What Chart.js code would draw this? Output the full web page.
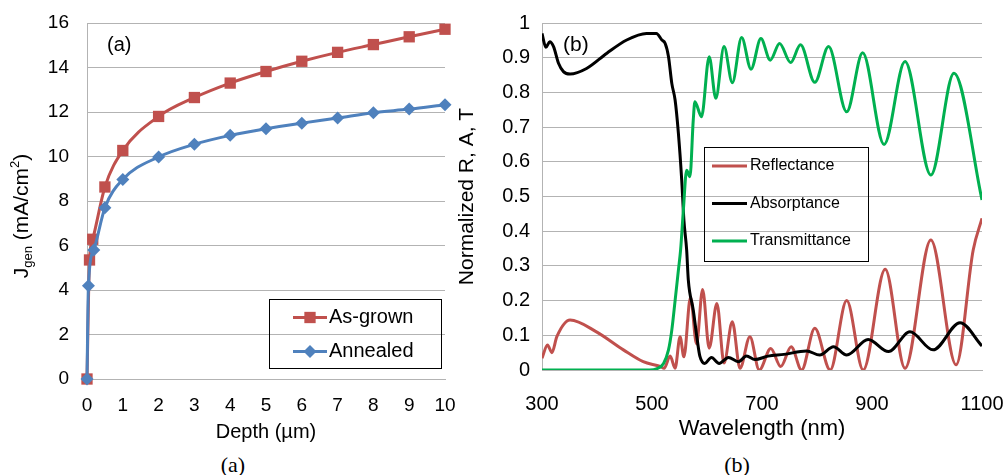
<!DOCTYPE html>
<html>
<head>
<meta charset="utf-8">
<script src="https://cdn.jsdelivr.net/npm/chart.js@4.4.1/dist/chart.umd.min.js"></script>
<style>
  html, body { margin: 0; padding: 0; background: #fff; overflow: hidden; }
  #wrap { position: relative; width: 1003px; height: 475px; }
  canvas { position: absolute; top: 0; }
  #left { left: 0; }
  #right { left: 455px; }
  .cap { position: absolute; top: 452px; width: 60px; margin-left: -30px; text-align: center;
         font: 22px "Liberation Serif", "DejaVu Serif", serif; line-height: 26px; color: #000; }
</style>
</head>
<body>
<div id="wrap">
  <canvas id="left" width="460" height="445"></canvas>
  <canvas id="right" width="560" height="445"></canvas>
  <div class="cap" style="left:233px">(a)</div>
  <div class="cap" style="left:737px">(b)</div>
</div>
<script>
// (a) generated current vs depth
const depthGrown = [0, 0.07, 0.16, 0.5, 1, 2, 3, 4, 5, 6, 7, 8, 9, 10];
const jGrown = [0, 5.35, 6.28, 8.63, 10.27, 11.8, 12.65, 13.3, 13.82, 14.28, 14.68, 15.03, 15.38, 15.72];
const depthAnnealed = [0, 0.04, 0.19, 0.5, 1, 2, 3, 4, 5, 6, 7, 8, 9, 10];
const jAnnealed = [0, 4.19, 5.8, 7.7, 8.97, 9.98, 10.55, 10.95, 11.25, 11.5, 11.73, 11.97, 12.13, 12.33];

// (b) normalized R, A, T vs wavelength
const reflWl = [300, 310, 318, 327, 351, 399, 448, 484, 515, 522, 533, 542, 551, 558, 570, 581, 592, 604, 618, 631, 646, 660, 678, 695, 716, 734, 753, 772, 796, 824, 854, 884, 924, 960, 1007, 1053, 1084, 1100];
const reflVal = [0.034, 0.072, 0.05, 0.096, 0.144, 0.11, 0.058, 0.024, 0.01, 0.005, 0.04, 0.005, 0.096, 0.038, 0.21, 0.075, 0.232, 0.063, 0.192, 0.02, 0.139, 0.005, 0.096, 0.0, 0.062, 0.01, 0.067, 0.0, 0.12, 0.0, 0.2, 0.0, 0.29, 0.005, 0.375, 0.015, 0.346, 0.437];

const absWl = [300, 307, 314, 321, 330, 339, 351, 381, 418, 454, 490, 508, 518, 524, 530, 536, 542, 548, 554, 558, 563, 566, 575, 582, 587, 596, 608, 622, 639, 657, 672, 687, 711, 740, 781, 805, 830, 854, 893, 930, 969, 1011, 1060, 1100];
const absVal = [0.97, 0.93, 0.946, 0.932, 0.884, 0.86, 0.853, 0.869, 0.913, 0.951, 0.97, 0.97, 0.951, 0.941, 0.903, 0.826, 0.778, 0.682, 0.548, 0.432, 0.346, 0.26, 0.173, 0.09, 0.04, 0.019, 0.036, 0.019, 0.036, 0.024, 0.04, 0.03, 0.04, 0.045, 0.055, 0.043, 0.067, 0.043, 0.088, 0.053, 0.11, 0.058, 0.136, 0.069];

const transWl = [300, 496, 508, 521, 530, 536, 542, 548, 552, 557, 563, 569, 575, 578, 590, 604, 616, 631, 646, 663, 680, 698, 715, 732, 752, 770, 796, 821, 854, 883, 922, 960, 1007, 1049, 1100];
const transVal = [0, 0, 0.003, 0.019, 0.058, 0.115, 0.2, 0.288, 0.346, 0.46, 0.576, 0.557, 0.72, 0.773, 0.73, 0.903, 0.783, 0.932, 0.828, 0.958, 0.867, 0.955, 0.893, 0.941, 0.886, 0.937, 0.829, 0.932, 0.744, 0.914, 0.65, 0.889, 0.562, 0.855, 0.49];

const FONT = '"Liberation Sans", Arial, sans-serif';
const GRID = '#b3b3b3';
Chart.defaults.font.family = FONT;
Chart.defaults.color = '#000';

const pts = (xs, ys) => xs.map((x, i) => ({ x: x, y: ys[i] }));

// keep the plot area where layout.padding puts it (labels may overflow)
function fixBox(size, prop) {
  return s => {
    s[prop] = size;
    s.paddingTop = s.paddingBottom = s.paddingLeft = s.paddingRight = 0;
  };
}

// legend drawn inside a bordered box, like the spreadsheet one
const boxLegend = {
  id: 'boxLegend',
  afterDraw(chart, args, opts) {
    if (!opts.box) return;
    const ctx = chart.ctx;
    const b = opts.box;
    ctx.save();
    ctx.strokeStyle = '#000';
    ctx.lineWidth = 1;
    ctx.strokeRect(b.x, b.y, b.w, b.h);
    ctx.font = opts.fontSize + 'px ' + FONT;
    ctx.textBaseline = 'middle';
    chart.data.datasets.forEach((ds, i) => {
      const y = opts.rows[i];
      ctx.strokeStyle = ds.borderColor;
      ctx.lineWidth = ds.borderWidth;
      ctx.beginPath();
      ctx.moveTo(opts.lineX[0], y);
      ctx.lineTo(opts.lineX[1], y);
      ctx.stroke();
      if (ds.pointRadius) {
        const mx = (opts.lineX[0] + opts.lineX[1]) / 2, r = ds.pointRadius;
        ctx.fillStyle = ds.backgroundColor;
        ctx.beginPath();
        if (ds.pointStyle === 'rect') {
          const s = r * Math.SQRT1_2;
          ctx.rect(mx - s, y - s, 2 * s, 2 * s);
        } else {
          ctx.moveTo(mx - r, y); ctx.lineTo(mx, y - r);
          ctx.lineTo(mx + r, y); ctx.lineTo(mx, y + r);
          ctx.closePath();
        }
        ctx.fill();
      }
      ctx.fillStyle = '#000';
      ctx.fillText(ds.label, opts.textX, y);
    });
    ctx.restore();
  }
};

// free text (panel tags, title with sub/superscript)
const extraText = {
  id: 'extraText',
  afterDraw(chart, args, opts) {
    const ctx = chart.ctx;
    (opts.items || []).forEach(it => {
      ctx.save();
      ctx.translate(it.x, it.y);
      if (it.rotate) ctx.rotate(it.rotate);
      ctx.fillStyle = '#000';
      ctx.textBaseline = 'middle';
      let total = 0;
      const widths = it.parts.map(p => {
        ctx.font = p.size + 'px ' + FONT;
        const w = ctx.measureText(p.t).width;
        total += w;
        return w;
      });
      let x = it.center ? -total / 2 : 0;
      it.parts.forEach((p, i) => {
        ctx.font = p.size + 'px ' + FONT;
        ctx.fillText(p.t, x, p.dy || 0);
        x += widths[i];
      });
      ctx.restore();
    });
  }
};

new Chart(document.getElementById('left'), {
  type: 'line',
  data: {
    datasets: [
      { label: 'As-grown', data: pts(depthGrown, jGrown), borderColor: '#c0504d', backgroundColor: '#c0504d',
        borderWidth: 3, pointStyle: 'rect', pointRadius: 8, pointBorderWidth: 0,
        cubicInterpolationMode: 'monotone', clip: false, order: 2 },
      { label: 'Annealed', data: pts(depthAnnealed, jAnnealed), borderColor: '#4f81bd', backgroundColor: '#4f81bd',
        borderWidth: 3, pointStyle: 'rectRot', pointRadius: 6.5, pointBorderWidth: 0,
        cubicInterpolationMode: 'monotone', clip: false, order: 1 }
    ]
  },
  options: {
    responsive: false,
    animation: false,
    events: [],
    layout: { padding: { top: 23, right: 15, bottom: 0, left: 0 } },
    plugins: {
      legend: { display: false },
      tooltip: { enabled: false },
      boxLegend: { box: { x: 269.5, y: 299.5, w: 172, h: 69 }, rows: [317.5, 351.5], lineX: [293, 327], textX: 329, fontSize: 20 },
      extraText: { items: [
        { x: 107, y: 45, parts: [{ t: '(a)', size: 20 }] },
        { x: 22, y: 216, rotate: -Math.PI / 2, center: true, parts: [
          { t: 'J', size: 21 }, { t: 'gen', size: 13, dy: 6 }, { t: ' (mA/cm', size: 21 },
          { t: '2', size: 13, dy: -7 }, { t: ')', size: 21 }] }
      ] }
    },
    scales: {
      x: {
        type: 'linear', min: 0, max: 10,
        ticks: { stepSize: 1, padding: 15, font: { size: 19 }, callback: v => String(v) },
        grid: { display: false, drawTicks: false },
        border: { display: true, color: GRID },
        title: { display: true, text: 'Depth (µm)', font: { size: 20 }, padding: { top: 0, bottom: 1 } },
        afterFit: fixBox(66, 'height')
      },
      y: {
        min: 0, max: 16,
        ticks: { stepSize: 2, padding: 18, font: { size: 19 } },
        grid: { color: GRID, drawTicks: false },
        border: { color: GRID },
        afterFit: fixBox(87, 'width')
      }
    }
  },
  plugins: [boxLegend, extraText]
});

new Chart(document.getElementById('right'), {
  type: 'line',
  data: {
    datasets: [
      { label: 'Reflectance', data: pts(reflWl, reflVal), borderColor: '#c0504d', borderWidth: 3,
        pointRadius: 0, cubicInterpolationMode: 'monotone', order: 3 },
      { label: 'Absorptance', data: pts(absWl, absVal), borderColor: '#000000', borderWidth: 3,
        pointRadius: 0, cubicInterpolationMode: 'monotone', order: 2 },
      { label: 'Transmittance', data: pts(transWl, transVal), borderColor: '#00b050', borderWidth: 3,
        pointRadius: 0, cubicInterpolationMode: 'monotone', order: 1 }
    ]
  },
  options: {
    responsive: false,
    animation: false,
    events: [],
    layout: { padding: { top: 23, right: 33, bottom: 0, left: 0 } },
    plugins: {
      legend: { display: false },
      tooltip: { enabled: false },
      boxLegend: { box: { x: 249.5, y: 147.5, w: 164, h: 114 }, rows: [166, 203.5, 241], lineX: [257, 292], textX: 295, fontSize: 16 },
      extraText: { items: [{ x: 108, y: 45, parts: [{ t: '(b)', size: 21 }] }] }
    },
    scales: {
      x: {
        type: 'linear', min: 300, max: 1100,
        ticks: { stepSize: 200, padding: 22, font: { size: 20 }, callback: v => String(v) },
        grid: { display: false, drawTicks: false },
        border: { display: true, color: GRID },
        title: { display: true, text: 'Wavelength (nm)', font: { size: 22 }, padding: { top: 0, bottom: 3 } },
        afterFit: fixBox(75, 'height')
      },
      y: {
        min: 0, max: 1,
        ticks: { stepSize: 0.1, padding: 12, font: { size: 20 },
                 callback: v => String(Math.round(v * 10) / 10) },
        grid: { color: GRID, drawTicks: false },
        border: { color: GRID },
        title: { display: true, text: 'Normalized R, A, T', font: { size: 21 }, padding: 0 },
        afterFit: fixBox(87, 'width')
      }
    }
  },
  plugins: [boxLegend, extraText]
});
</script>
</body>
</html>
